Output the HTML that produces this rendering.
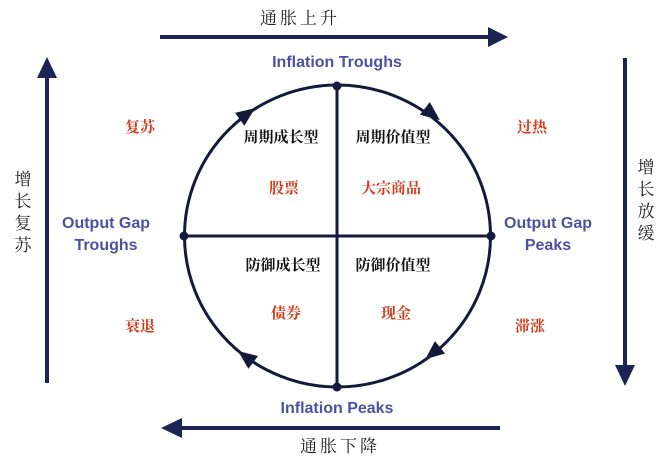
<!DOCTYPE html>
<html><head><meta charset="utf-8"><style>
html,body{margin:0;padding:0;background:#fff;}
svg{display:block;}
.cn{font-family:"Liberation Serif","Noto Serif CJK SC",serif;font-weight:bold;font-size:15px;fill:#111;}
.red{font-family:"Liberation Serif","Noto Serif CJK SC",serif;font-weight:bold;font-size:15px;fill:#d03a1a;}
.bl{font-family:"Liberation Sans",sans-serif;font-weight:bold;font-size:16px;fill:#4e51a0;}
.ax{font-family:"Liberation Serif","Noto Serif CJK SC",serif;font-size:17px;fill:#222;}
</style></head><body>
<svg width="671" height="461" viewBox="0 0 671 461" xmlns="http://www.w3.org/2000/svg">
<g fill="#1b2455" stroke="#1b2455">
<line x1="160" y1="37" x2="490" y2="37" stroke-width="4"/>
<polygon points="508,37 488,27 488,47" stroke="none"/>
<line x1="180" y1="428" x2="500" y2="428" stroke-width="4"/>
<polygon points="161,428 182,418 182,438" stroke="none"/>
<line x1="47" y1="75" x2="47" y2="383" stroke-width="4"/>
<polygon points="47,57 37,78 57,78" stroke="none"/>
<line x1="625" y1="58" x2="625" y2="368" stroke-width="4"/>
<polygon points="625,386 615,365 635,365" stroke="none"/>
</g>
<g fill="#141a3c" stroke="#141a3c">
<ellipse cx="337.5" cy="236" rx="153" ry="151" fill="none" stroke-width="3"/>
<line x1="337" y1="86" x2="337" y2="387" stroke-width="3"/>
<line x1="184" y1="236" x2="491" y2="236" stroke-width="3"/>
<circle cx="337" cy="86" r="4.5" stroke="none"/>
<circle cx="337" cy="387" r="4.5" stroke="none"/>
<circle cx="184" cy="236" r="4.5" stroke="none"/>
<circle cx="491" cy="236" r="4.5" stroke="none"/>
<g stroke="none">
<polygon points="10,0 -9,-8 -9,8" transform="translate(247,114) rotate(-36)"/>
<polygon points="10,0 -9,-8 -9,8" transform="translate(432,114) rotate(38)"/>
<polygon points="10,0 -9,-8 -9,8" transform="translate(433,353) rotate(141)"/>
<polygon points="10,0 -9,-8 -9,8" transform="translate(246,357) rotate(217)"/>
</g>
</g>
<g text-anchor="middle">
<text class="ax" x="300" y="24" letter-spacing="3">通胀上升</text>
<text class="ax" x="340" y="452" letter-spacing="3">通胀下降</text>
<text class="bl" x="337" y="67">Inflation Troughs</text>
<text class="bl" x="337" y="413">Inflation Peaks</text>
<text class="bl" x="106" y="228">Output Gap</text>
<text class="bl" x="106" y="250">Troughs</text>
<text class="bl" x="548" y="228">Output Gap</text>
<text class="bl" x="548" y="250">Peaks</text>
<text class="cn" x="281" y="142">周期成长型</text>
<text class="cn" x="393" y="142">周期价值型</text>
<text class="cn" x="283" y="270">防御成长型</text>
<text class="cn" x="393" y="270">防御价值型</text>
<text class="red" x="284" y="193">股票</text>
<text class="red" x="391" y="193">大宗商品</text>
<text class="red" x="286" y="318">债券</text>
<text class="red" x="396" y="318">现金</text>
<text class="red" x="140" y="132">复苏</text>
<text class="red" x="532" y="132">过热</text>
<text class="red" x="140" y="331">衰退</text>
<text class="red" x="530" y="331">滞涨</text>
<g class="ax">
<text x="23" y="185">增</text><text x="23" y="207">长</text><text x="23" y="229">复</text><text x="23" y="251">苏</text>
<text x="646" y="173">增</text><text x="646" y="195">长</text><text x="646" y="217">放</text><text x="646" y="239">缓</text>
</g>
</g>
</svg>
</body></html>
